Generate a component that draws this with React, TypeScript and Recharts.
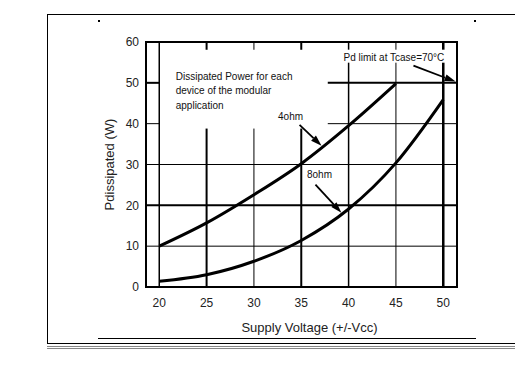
import React from "react"
import { LineChart, Line, XAxis, YAxis, ReferenceLine, ReferenceDot, ReferenceArea } from "recharts"

const voltage = [20, 25, 30, 35, 40, 45, 50]
const ohm4 = [10, 15.7, 22.6, 30.2, 39.5, 49.8, null]
const ohm8 = [1.4, 3.0, 6.3, 11.4, 19.1, 30.4, 45.9]
const xTicks = [20, 25, 30, 35, 40, 45, 50]
const yTicks = [0, 10, 20, 30, 40, 50, 60]
const noteLines = ["Dissipated Power for each", "device of the modular", "application"]

const data = voltage.map((v, i) => ({ v, ohm4: ohm4[i], ohm8: ohm8[i] }))

const FONT = "'Liberation Sans', Arial, sans-serif"
const X_MIN = 18.6
const X_MAX = 51.45

// text block cut-out of the grid
const GAP_X0 = 20
const GAP_X1 = 37.8
const GAP_Y0 = 38.8
const GAP_Y1 = 58.1

const vGrid = [
  { x: 20, w: 1.5, cut: false },
  { x: 25, w: 2, cut: true },
  { x: 30, w: 1, cut: true },
  { x: 35, w: 2, cut: true },
  { x: 40, w: 1.5, cut: false },
  { x: 45, w: 1, cut: false },
  { x: 50, w: 2.5, cut: false },
]
const hGrid = [
  { y: 10, w: 1, cut: false },
  { y: 20, w: 2, cut: false },
  { y: 30, w: 1, cut: false },
  { y: 40, w: 1, cut: true },
  { y: 50, w: 2, cut: true },
]

function makeArrow(text: string, dx: number, dy: number, bgW = 0) {
  return (p: any) => {
    const { x1, y1, x2, y2 } = p
    const ang = Math.atan2(y2 - y1, x2 - x1)
    const len = 11
    const hw = 3.5
    const bx = x2 - Math.cos(ang) * len
    const by = y2 - Math.sin(ang) * len
    const px = -Math.sin(ang) * hw
    const py = Math.cos(ang) * hw
    const tx = x1 + dx
    const ty = y1 + dy
    return (
      <g>
        {bgW > 0 && <rect x={tx - bgW / 2} y={ty - 11} width={bgW} height={13} fill="#fff" />}
        <line x1={x1} y1={y1} x2={bx} y2={by} stroke="#000" strokeWidth={1.8} />
        <polygon points={`${x2},${y2} ${bx + px},${by + py} ${bx - px},${by - py}`} fill="#000" />
        <text x={tx} y={ty} fontSize={10} fontFamily={FONT} fill="#111" textAnchor="middle">
          {text}
        </text>
      </g>
    )
  }
}

const noteShape = (p: any) => (
  <text x={p.cx} y={p.cy} fontSize={10} fontFamily={FONT} fill="#111">
    {noteLines.map((t, i) => (
      <tspan key={i} x={p.cx} y={p.cy + 3.5 + i * 14.5}>
        {t}
      </tspan>
    ))}
  </text>
)

const frame = (style: React.CSSProperties) => <div style={{ position: "absolute", background: "#000", ...style }} />

export default function App() {
  return (
    <div style={{ position: "absolute", left: 0, top: 0, width: 515, height: 386, background: "#fff", overflow: "hidden" }}>
      {frame({ left: 47, top: 14, width: 468, height: 1 })}
      {frame({ left: 47, top: 14, width: 1, height: 330 })}
      {frame({ left: 47, top: 343, width: 468, height: 1 })}
      {frame({ left: 47, top: 346, width: 468, height: 1, background: "#888" })}
      {frame({ left: 47, top: 348, width: 468, height: 1, background: "#888" })}
      {frame({ left: 98, top: 338, width: 378, height: 1 })}
      {frame({ left: 98, top: 20, width: 2, height: 2 })}
      {frame({ left: 474, top: 20, width: 2, height: 2 })}
      <div style={{ position: "absolute", left: 0, top: 0 }}>
        <LineChart width={515} height={386} data={data} margin={{ top: 42, right: 58, bottom: 54, left: 106 }}>
          <XAxis
            dataKey="v"
            type="number"
            domain={[X_MIN, X_MAX]}
            allowDataOverflow
            ticks={xTicks}
            height={45}
            axisLine={false}
            tickLine={false}
            tickMargin={5}
            tick={{ fontSize: 12, fontFamily: FONT, fill: "#222" }}
            label={{ value: "Supply Voltage (+/-Vcc)", position: "insideBottom", offset: 0, dx: 8, fontSize: 13, fontFamily: FONT, fill: "#222" }}
          />
          <YAxis
            type="number"
            domain={[0, 60]}
            ticks={yTicks}
            width={40}
            axisLine={false}
            tickLine={false}
            tickMargin={1}
            tick={{ fontSize: 12, fontFamily: FONT, fill: "#222" }}
            label={{ value: "Pdissipated (W)", angle: -90, position: "insideLeft", offset: 3, style: { textAnchor: "middle" }, fontSize: 13, fontFamily: FONT, fill: "#222" }}
          />
          {vGrid.map((g) =>
            g.cut ? (
              [
                <ReferenceLine key={`v${g.x}a`} segment={[{ x: g.x, y: 0 }, { x: g.x, y: GAP_Y0 }]} stroke="#000" strokeWidth={g.w} />,
                <ReferenceLine key={`v${g.x}b`} segment={[{ x: g.x, y: GAP_Y1 }, { x: g.x, y: 60 }]} stroke="#000" strokeWidth={g.w} />,
              ]
            ) : (
              <ReferenceLine key={`v${g.x}`} x={g.x} stroke="#000" strokeWidth={g.w} />
            )
          )}
          {hGrid.map((g) =>
            g.cut ? (
              [
                <ReferenceLine key={`h${g.y}a`} segment={[{ x: X_MIN, y: g.y }, { x: GAP_X0, y: g.y }]} stroke="#000" strokeWidth={g.w} />,
                <ReferenceLine key={`h${g.y}b`} segment={[{ x: GAP_X1, y: g.y }, { x: X_MAX, y: g.y }]} stroke="#000" strokeWidth={g.w} />,
              ]
            ) : (
              <ReferenceLine key={`h${g.y}`} y={g.y} stroke="#000" strokeWidth={g.w} />
            )
          )}
          <ReferenceDot x={21.74} y={51.63} r={0} shape={noteShape} />
          <ReferenceLine segment={[{ x: 34.82, y: 39.7 }, { x: 37.14, y: 34.6 }]} shape={makeArrow("4ohm", -9, -5)} />
          <ReferenceLine segment={[{ x: 36.5, y: 25.05 }, { x: 39.24, y: 18.2 }]} shape={makeArrow("8ohm", 4, -7)} />
          <ReferenceLine segment={[{ x: 46.85, y: 54.2 }, { x: 51.3, y: 50.3 }]} shape={makeArrow("Pd limit at Tcase=70°C", -19.5, -5, 111)} />
          <ReferenceArea x1={X_MIN} x2={X_MAX} y1={0} y2={60} fill="none" stroke="#000" strokeWidth={2} fillOpacity={0} />
          <Line type="monotone" dataKey="ohm4" stroke="#000" strokeWidth={3} dot={false} isAnimationActive={false} connectNulls={false} />
          <Line type="monotone" dataKey="ohm8" stroke="#000" strokeWidth={3} dot={false} isAnimationActive={false} />
        </LineChart>
      </div>
    </div>
  )
}
